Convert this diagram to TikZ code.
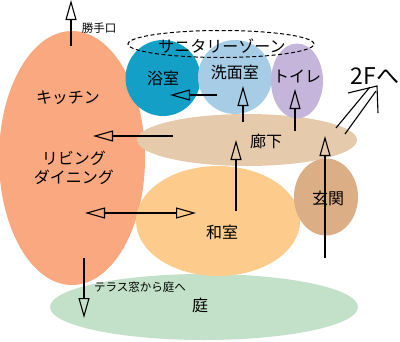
\documentclass[tikz,border=0pt]{standalone}
\usepackage{fontspec}
\setmainfont{Noto Sans CJK JP}
\usetikzlibrary{shapes.geometric,arrows.meta}
\definecolor{ckit}{HTML}{F9A880}
\definecolor{cbath}{HTML}{149FC7}
\definecolor{cwash}{HTML}{A6CDE5}
\definecolor{ctoil}{HTML}{C5B5DA}
\definecolor{chall}{HTML}{E5CBAB}
\definecolor{cwash2}{HTML}{FDCB8B}
\definecolor{cent}{HTML}{DBAE85}
\definecolor{cgard}{HTML}{C3E1C8}
\tikzset{
  room/.style={ellipse, draw=none, inner sep=0pt},
  lbl/.style={font=\fontsize{16}{16}\selectfont, inner sep=0pt},
  small/.style={font=\fontsize{11.5}{12}\selectfont, inner sep=0pt},
  arr/.style={line width=1.1pt, -{Triangle[open, length=20pt, width=11pt, line width=1.1pt]}},
  darr/.style={line width=1.1pt, {Triangle[open, length=20pt, width=11pt, line width=1.1pt]}-{Triangle[open, length=20pt, width=11pt, line width=1.1pt]}},
  thin/.style={line width=1.1pt}
}
\begin{document}
\begin{tikzpicture}[x=1pt,y=-1pt]
\useasboundingbox (0,0) rectangle (400,341);
% rooms
\node[room, fill=cgard, minimum width=308pt, minimum height=66pt] (garden) at (204,307) {};
\node[room, fill=ckit, minimum width=146pt, minimum height=254pt] (kitchen) at (72,158) {};
\node[room, fill=cwash2, minimum width=164pt, minimum height=110pt] (washitsu) at (218,221) {};
\node[room, fill=chall, minimum width=220pt, minimum height=52pt] (hall) at (247,140) {};
\node[room, fill=cent, minimum width=64pt, minimum height=77pt] (entry) at (326,197) {};
\node[room, fill=cbath, minimum width=75pt, minimum height=76pt] (bath) at (163,78) {};
\node[room, fill=cwash, minimum width=74pt, minimum height=74pt] (wash) at (235,77) {};
\node[room, fill=ctoil, minimum width=52pt, minimum height=75pt] (toilet) at (297,81) {};
\node[ellipse, draw, dashed, line width=1pt, dash pattern=on 4pt off 2.5pt, minimum width=186pt, minimum height=27pt, inner sep=0pt] (zone) at (221,44) {};
% labels
\node[lbl] (tzone) at (222,46) {サニタリーゾーン};
\node[small] (tkatte) at (99,28) {勝手口};
\node[lbl] (tkit) at (68,98) {キッチン};
\node[lbl, align=center, font=\fontsize{16}{19}\selectfont] (tliv) at (74,168) {リビング\\ダイニング};
\node[lbl] (tbath) at (163,78) {浴室};
\node[lbl] (twash) at (235,72) {洗面室};
\node[lbl] (ttoil) at (297,76) {トイレ};
\node[font=\fontsize{23}{23}\selectfont, inner sep=0pt] (t2f) at (375,76) {2Fへ};
\node[lbl] (thall) at (266,141) {廊下};
\node[lbl] (tent) at (328,198) {玄関};
\node[lbl] (twa) at (222,232) {和室};
\node[small] (tterr) at (140,287) {テラス窓から庭へ};
\node[lbl] (tgard) at (200,305) {庭};
% arrow end points
\coordinate (k0) at (71,46); \coordinate (k1) at (71,0);
\coordinate (b0) at (217,95); \coordinate (b1) at (170,95);
\coordinate (h0) at (173,136); \coordinate (h1) at (93,136);
\coordinate (d0) at (85,213); \coordinate (d1) at (196,213);
\coordinate (g0) at (84,258); \coordinate (g1) at (84,318);
\coordinate (w0) at (236,211); \coordinate (w1) at (236,140);
\coordinate (s0) at (243,122); \coordinate (s1) at (243,86);
\coordinate (t0) at (295,131); \coordinate (t1) at (295,89);
\coordinate (e0) at (325,258); \coordinate (e1) at (325,136);
% arrows
\draw[arr] (k0) -- (k1);
\draw[arr] (b0) -- (b1);
\draw[arr] (h0) -- (h1);
\draw[darr] (d0) -- (d1);
\draw[arr] (g0) -- (g1);
\draw[arr] (w0) -- (w1);
\draw[arr] (s0) -- (s1);
\draw[arr] (t0) -- (t1);
\draw[arr] (e0) -- (e1);
% 2F arrow
\coordinate (f1) at (336,128); \coordinate (f2) at (370,87);
\coordinate (f3) at (345,134); \coordinate (f4) at (376,91);
\coordinate (fw1) at (348,93); \coordinate (ftip) at (377,86); \coordinate (fw2) at (378,113);
\draw[thin] (f1) -- (f2);
\draw[thin] (f3) -- (f4);
\draw[thin] (fw1) -- (ftip) -- (fw2);
\end{tikzpicture}
\end{document}
